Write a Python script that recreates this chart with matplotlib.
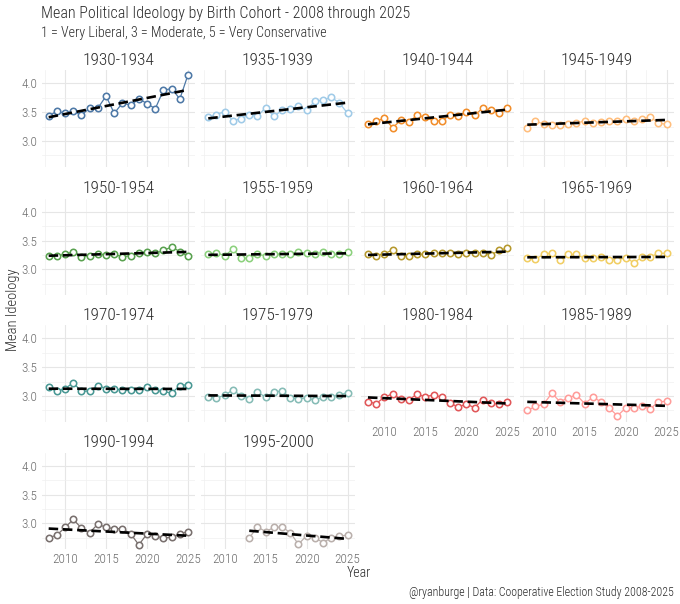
import numpy as np
import matplotlib
matplotlib.use("Agg")
import matplotlib.pyplot as plt
from matplotlib import font_manager as fm

# ---------------- data ----------------
years = list(range(2008, 2026))
years_late = list(range(2013, 2026))

c1930 = [3.43, 3.52, 3.48, 3.52, 3.45, 3.57, 3.57, 3.78, 3.48, 3.66, 3.62, 3.73, 3.65, 3.56, 3.88, 3.91, 3.73, 4.15]
c1935 = [3.41, 3.46, 3.51, 3.35, 3.39, 3.45, 3.43, 3.58, 3.43, 3.53, 3.55, 3.60, 3.54, 3.69, 3.71, 3.76, 3.66, 3.48]
c1940 = [3.29, 3.34, 3.40, 3.23, 3.36, 3.33, 3.45, 3.41, 3.35, 3.35, 3.45, 3.43, 3.51, 3.45, 3.57, 3.53, 3.49, 3.57]
c1945 = [3.23, 3.35, 3.29, 3.27, 3.28, 3.30, 3.31, 3.35, 3.32, 3.33, 3.34, 3.35, 3.38, 3.35, 3.38, 3.42, 3.31, 3.29]
c1950 = [3.24, 3.24, 3.26, 3.31, 3.22, 3.24, 3.27, 3.25, 3.26, 3.22, 3.24, 3.28, 3.31, 3.28, 3.33, 3.39, 3.31, 3.23]
c1955 = [3.26, 3.29, 3.24, 3.35, 3.19, 3.20, 3.26, 3.24, 3.26, 3.27, 3.26, 3.30, 3.28, 3.27, 3.30, 3.26, 3.26, 3.30]
c1960 = [3.27, 3.24, 3.27, 3.34, 3.23, 3.23, 3.27, 3.26, 3.28, 3.28, 3.28, 3.27, 3.29, 3.29, 3.29, 3.25, 3.33, 3.37]
c1965 = [3.19, 3.18, 3.26, 3.29, 3.16, 3.26, 3.26, 3.19, 3.20, 3.21, 3.17, 3.17, 3.20, 3.12, 3.21, 3.22, 3.28, 3.28]
c1970 = [3.15, 3.08, 3.13, 3.23, 3.08, 3.09, 3.18, 3.13, 3.13, 3.10, 3.10, 3.10, 3.15, 3.10, 3.08, 3.05, 3.18, 3.20]
c1975 = [2.98, 2.97, 3.01, 3.11, 3.00, 2.95, 3.07, 2.98, 3.07, 3.09, 2.97, 2.95, 2.97, 2.93, 2.98, 2.99, 3.02, 3.06]
c1980 = [2.90, 2.87, 2.98, 3.04, 2.95, 2.94, 3.03, 2.99, 3.02, 2.98, 2.88, 2.81, 2.86, 2.80, 2.94, 2.88, 2.86, 2.90]
c1985 = [2.75, 2.82, 2.86, 3.05, 2.90, 2.97, 3.02, 2.87, 2.98, 2.90, 2.79, 2.66, 2.79, 2.80, 2.82, 2.78, 2.90, 2.91]
c1990 = [2.75, 2.80, 2.93, 3.07, 2.92, 2.84, 2.99, 2.93, 2.91, 2.91, 2.82, 2.63, 2.82, 2.78, 2.75, 2.76, 2.82, 2.86]
c1995 = [2.75, 2.94, 2.86, 2.93, 2.94, 2.84, 2.64, 2.79, 2.75, 2.67, 2.75, 2.78, 2.80]

cohorts = ["1930-1934", "1935-1939", "1940-1944", "1945-1949",
           "1950-1954", "1955-1959", "1960-1964", "1965-1969",
           "1970-1974", "1975-1979", "1980-1984", "1985-1989",
           "1990-1994", "1995-2000"]
series = [c1930, c1935, c1940, c1945, c1950, c1955, c1960, c1965,
          c1970, c1975, c1980, c1985, c1990, c1995]
series_years = [years] * 13 + [years_late]
colors = ["#4E79A7", "#A0CBE8", "#F28E2B", "#FFBE7D", "#59A14F", "#8CD17D",
          "#B6992D", "#F1CE63", "#499894", "#86BCB6", "#E15759", "#FF9D9A",
          "#79706E", "#BAB0AC"]

x_major = [2010, 2015, 2020, 2025]
x_minor = [2007.5, 2012.5, 2017.5, 2022.5]
y_major = [3.0, 3.5, 4.0]
y_minor = [2.75, 3.25, 3.75]

title = "Mean Political Ideology by Birth Cohort - 2008 through 2025"
subtitle = "1 = Very Liberal, 3 = Moderate, 5 = Very Conservative"
caption = "@ryanburge | Data: Cooperative Election Study 2008-2025"

# ---------------- fonts ----------------
avail = {f.name for f in fm.fontManager.ttflist}
FONT = "DejaVu Sans"
for fam in ["Liberation Sans Narrow", "DejaVu Sans Condensed", "Roboto Condensed", "Roboto"]:
    if fam in avail:
        FONT = fam
        break
plt.rcParams['font.family'] = [FONT, 'DejaVu Sans']
WT = "light"

# ---------------- layout ----------------
W, H = 680, 604
fig = plt.figure(figsize=(W / 100, H / 100), dpi=100)
fig.patch.set_facecolor("white")

col_left = [41.7, 201.3, 361.0, 520.3]
pw = 153.3
row_top = [70.3, 198.7, 325.3, 452.7]
ph = 96.5

TEXT_DARK = "#2b2b2b"
TICK_COL = "#6e6e6e"

for i, (name, vals, yrs, col) in enumerate(zip(cohorts, series, series_years, colors)):
    r, c = divmod(i, 4)
    ax = fig.add_axes([col_left[c] / W, 1 - (row_top[r] + ph) / H, pw / W, ph / H])
    ax.set_facecolor("white")
    ax.set_xlim(2007.15, 2025.85)
    ax.set_ylim(2.554, 4.226)
    ax.set_xticks(x_major)
    ax.set_xticks(x_minor, minor=True)
    ax.set_yticks(y_major)
    ax.set_yticks(y_minor, minor=True)
    ax.grid(True, which="major", color="#E6E6E6", lw=0.8, zorder=0)
    ax.grid(True, which="minor", color="#F0F0F0", lw=0.5, zorder=0)
    ax.set_axisbelow(True)
    for s in ax.spines.values():
        s.set_visible(False)
    ax.tick_params(which="both", length=0, labelsize=9.5, colors=TICK_COL, pad=3)
    show_x = (r == 3) or (r == 2 and c >= 2)
    show_y = (c == 0)
    if show_x:
        ax.set_xticklabels([str(v) for v in x_major], fontweight=WT)
    else:
        ax.set_xticklabels([])
    if show_y:
        ax.set_yticklabels([f"{v:.1f}" for v in y_major], fontweight=WT)
    else:
        ax.set_yticklabels([])

    ax.plot(yrs, vals, color=col, lw=0.9, zorder=2)
    ax.plot(yrs, vals, ls="none", marker="o", ms=4.6, mfc="white", mec=col,
            mew=1.15, zorder=3)
    k, b = np.polyfit(yrs, vals, 1)
    xs = np.array([yrs[0], yrs[-1]])
    ax.plot(xs, k * xs + b, color="black", lw=1.9, ls=(0, (3.6, 1.8)), zorder=4)

    ax.text(0.5, 1 + 5.5 / ph, name, transform=ax.transAxes, ha="center",
            va="baseline", fontsize=12.5, color=TEXT_DARK, fontweight=WT)

fig.text(41 / W, 1 - 18 / H, title, ha="left", va="baseline", fontsize=11.5,
         color=TEXT_DARK, fontweight=WT)
fig.text(41 / W, 1 - 37 / H, subtitle, ha="left", va="baseline", fontsize=10.2,
         color=TEXT_DARK, fontweight=WT)
fig.text(359 / W, 1 - 577 / H, "Year", ha="center", va="baseline", fontsize=10,
         color=TEXT_DARK, fontweight=WT)
fig.text(12.7 / W, 1 - 310 / H, "Mean Ideology", ha="center", va="center",
         rotation=90, fontsize=10.5, color=TEXT_DARK, fontweight=WT)
fig.text(674 / W, 1 - 596 / H, caption, ha="right", va="baseline", fontsize=8.6,
         color=TEXT_DARK, fontweight=WT)

fig.savefig("out.png", dpi=100, facecolor="white")
